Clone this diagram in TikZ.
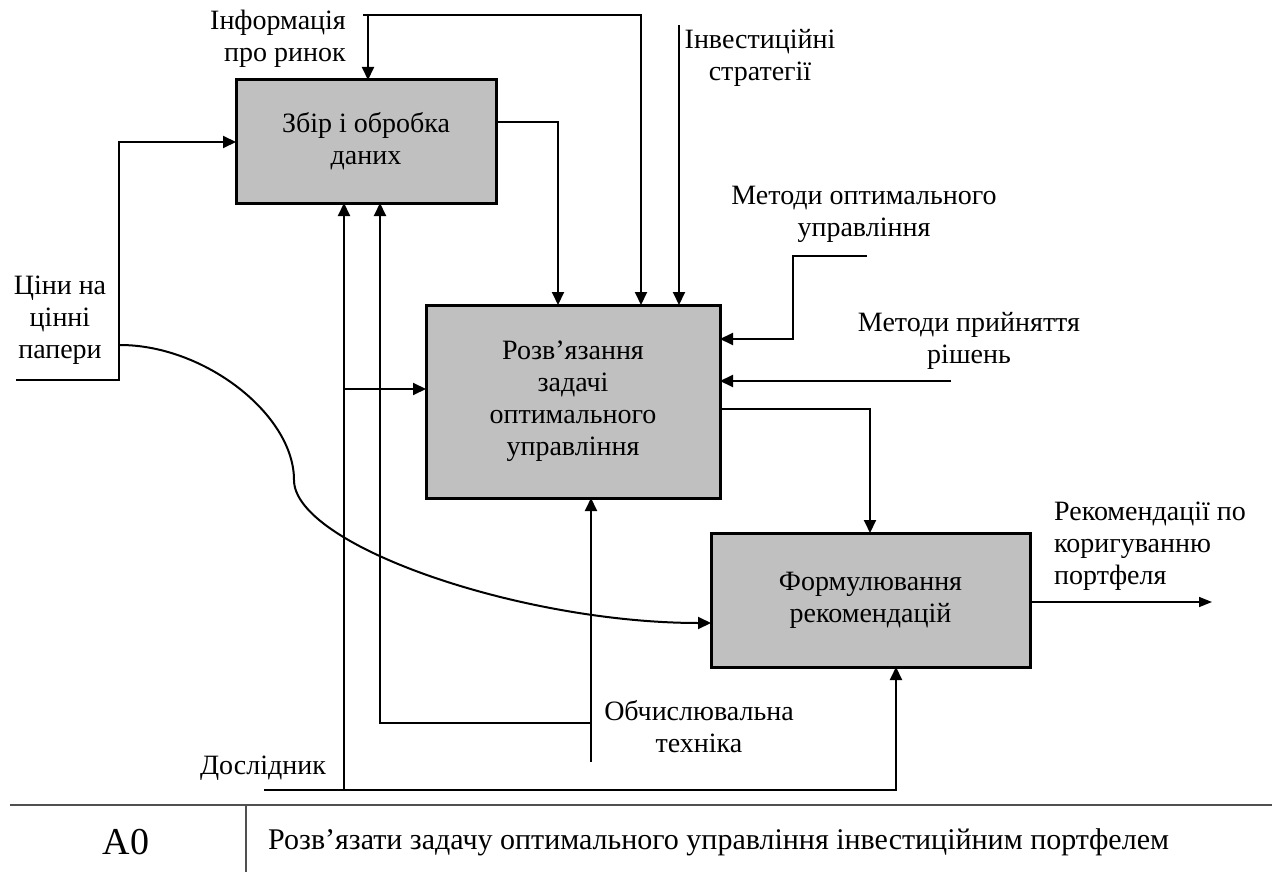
\documentclass[tikz,border=0pt]{standalone}
\usepackage{fontspec}
\setmainfont{Liberation Serif}
\usetikzlibrary{arrows.meta,calc}
\definecolor{boxgray}{HTML}{C0C0C0}
\definecolor{framegray}{HTML}{505050}
\begin{document}
\begin{tikzpicture}[x=1pt,y=-1pt,
  fnt/.style={font=\fontsize{28}{32}\selectfont},
  boxnode/.style={draw=black,line width=3pt,fill=boxgray,inner sep=0pt,outer sep=0pt,align=center,fnt},
  lbl/.style={inner sep=0pt,align=center,fnt},
  conn/.style={line width=2pt,line cap=butt},
  arr/.style={conn,-{Triangle[length=13pt,width=12pt]}},
  arrthin/.style={line width=1.5pt,-{Triangle[length=13pt,width=10pt]}},
  frame/.style={line width=1.5pt,draw=framegray}]
\useasboundingbox (0,0) rectangle (1272,872);

% boxes
\node[boxnode,minimum width=260pt,minimum height=123pt] (b1) at (366,141.5) {Збір і обробка\\даних};
\node[boxnode,minimum width=294pt,minimum height=193pt] (b2) at (573,401.5) {Розв’язання\\задачі\\оптимального\\управління};
\node[boxnode,minimum width=319pt,minimum height=134pt] (b3) at (870.5,600) {Формулювання\\рекомендацій};

% labels
\node[lbl,align=right,anchor=east] (tinfo) at (346,39) {Інформація\\про ринок};
\node[lbl] (tinv) at (760,58) {Інвестиційні\\стратегії};
\node[lbl] (tmopt) at (864,214) {Методи оптимального\\управління};
\node[lbl] (tmdec) at (969,341) {Методи прийняття\\рішень};
\node[lbl,align=left,anchor=west] (trec) at (1054,546) {Рекомендації по\\коригуванню\\портфеля};
\node[lbl] (tprice) at (60,320) {Ціни на\\цінні\\папери};
\node[lbl] (tdos) at (263,768) {Дослідник};
\node[lbl] (tcomp) at (699,727) {Обчислювальна\\техніка};
\node[inner sep=0pt,font=\fontsize{38}{40}\selectfont] (ta0) at (126,842) {A0};
\node[inner sep=0pt,font=\fontsize{30}{32}\selectfont,anchor=west] (tcap) at (268,842) {Розв’язати задачу оптимального управління інвестиційним портфелем};

% helper coordinates
\coordinate (infoL) at (363,15);
\coordinate (infoB) at (368,15);
\coordinate (infoR) at (641,15);
\coordinate (inv) at (679,25);
\coordinate (x558) at (558,122);
\coordinate (prS) at (16,380);
\coordinate (prC) at (119,142);
\coordinate (curS) at (120,345);
\coordinate (curM) at (294,480);
\coordinate (curE) at (0,623);
\coordinate (dosS) at (264,790);
\coordinate (x896) at (896,0);
\coordinate (x344) at (344,790);
\coordinate (y389) at (0,389);
\coordinate (compS) at (591,762);
\coordinate (compC) at (591,723);
\coordinate (x380) at (380,0);
\coordinate (y409) at (0,409);
\coordinate (x870) at (870,0);
\coordinate (moS) at (867,256);
\coordinate (moC) at (793,339);
\coordinate (mdS) at (951,381);
\coordinate (outE) at (1212,602);

% connectors
\draw[arr] (infoL) -- (infoR) -- (infoR |- b2.north);
\draw[arr] (infoB) -- (infoB |- b1.north);
\draw[arr] (inv) -- (inv |- b2.north);
\draw[arr] (b1.east |- x558) -| (x558 |- b2.north);
\draw[arr] (prS) -| (prC) -- (b1.west |- prC);
\draw[arr] (curS) .. controls (205,345) and (294,415) .. (curM) .. controls (294,545) and (520,623) .. (b3.west |- curE);
\draw[arr] (dosS) -| (x896 |- b3.south);
\draw[arr] (x344) -- (x344 |- b1.south);
\draw[arr] (x344 |- y389) -- (b2.west |- y389);
\draw[arr] (compS) -- (compS |- b2.south);
\draw[arr] (compC) -| (x380 |- b1.south);
\draw[arr] (b2.east |- y409) -| (x870 |- b3.north);
\draw[arr] (moS) -| (moC) -- (b2.east |- moC);
\draw[arr] (mdS) -- (b2.east |- mdS);
\draw[arrthin] (b3.east |- outE) -- (outE);

% bottom frame
\coordinate (fL) at (10,805);
\coordinate (fR) at (1272,805);
\coordinate (fV) at (246,805);
\coordinate (fVb) at (246,872);
\draw[frame] (fL) -- (fR);
\draw[frame] (fV) -- (fVb);
\end{tikzpicture}
\end{document}
